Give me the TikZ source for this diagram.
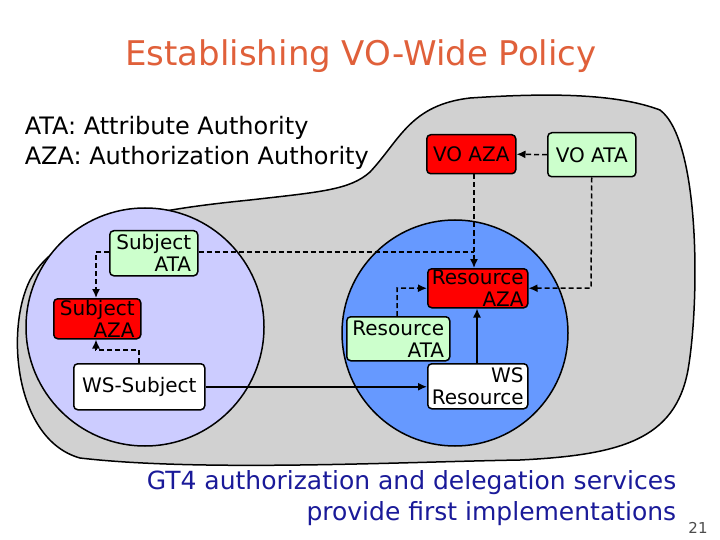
\documentclass[tikz,border=0pt]{standalone}
\usepackage{fontspec}
\setmainfont{DejaVu Sans}
\usetikzlibrary{arrows.meta}
\definecolor{ttl}{HTML}{E0603A}
\definecolor{btxt}{HTML}{1A1A99}
\definecolor{gr}{HTML}{CCFFCC}
\definecolor{rd}{HTML}{FF0000}
\definecolor{lav}{HTML}{CCCCFF}
\definecolor{blu}{HTML}{6699FF}
\begin{document}
\begin{tikzpicture}[x=1pt,y=-1pt,line width=1.5pt,
  box/.style={draw,rounded corners=4pt,inner sep=0pt,font=\fontsize{20}{22}\selectfont,align=right,anchor=north west},
  darr/.style={dash pattern=on 5pt off 3pt,-{Latex[length=9pt,width=8pt]}},
  sarr/.style={-{Latex[length=9pt,width=8pt]}}]
\useasboundingbox (0,0) rectangle (720,540);
\fill[white] (0,0) rectangle (720,540);
% blob
\draw[fill=black!18] (370,172) .. controls (400,140) and (410,105) .. (470,98)
  .. controls (560,92) and (620,95) .. (660,110)
  .. controls (700,140) and (700,300) .. (688,370)
  .. controls (675,440) and (620,455) .. (520,460)
  .. controls (400,462) and (200,472) .. (80,458)
  .. controls (15,440) and (5,330) .. (30,280)
  .. controls (60,225) and (150,210) .. (250,200)
  .. controls (320,192) and (350,190) .. (370,172) -- cycle;
\draw[fill=lav] (145,327) circle (119);
\draw[fill=blu] (455,333) circle (113);
% texts
\node[text=ttl,font=\fontsize{34}{36}\selectfont] (title) at (361,56) {Establishing VO-Wide Policy};
\node[anchor=north west,align=left,inner sep=0,font=\fontsize{24}{30}\selectfont] (leg) at (24,116) {ATA: Attribute Authority\\AZA: Authorization Authority};
% boxes
\node[box,fill=rd,minimum width=89,minimum height=39] (voaza) at (426,134) {VO AZA};
\node[box,fill=gr,minimum width=88,minimum height=44] (voata) at (547,132) {VO ATA};
\node[box,fill=rd,minimum width=100,minimum height=39] (raza) at (427,268) {Resource\\AZA};
\node[box,fill=gr,minimum width=103,minimum height=44] (rata) at (346,316) {Resource\\ATA};
\node[box,fill=white,minimum width=100,minimum height=45] (wsr) at (427,363) {WS\\Resource};
\node[box,fill=gr,minimum width=88,minimum height=45] (sata) at (109,230) {Subject\\ATA};
\node[box,fill=rd,minimum width=87,minimum height=40] (saza) at (53,298) {Subject\\AZA};
\node[box,fill=white,minimum width=131,minimum height=46,align=center] (wss) at (73,363) {WS-Subject};
% connectors
\draw[darr] (voata.west) -- (voaza.east);
\draw[darr] (voaza.south -| 474,0) -- (raza.north -| 474,0);
\draw[darr] (voata.south) -- (591,288) -- (raza.east);
\draw[darr] (rata.north -| 397,0) -- (397,288) -- (raza.west);
\draw[sarr] (wsr.north -| 477,0) -- (raza.south -| 477,0);
\draw[sarr] (wss.east) -- (wss.east -| wsr.west);
\coordinate (j) at (474,252);
\draw[dash pattern=on 5pt off 3pt] (sata.east |- j) -- (j);
\draw[darr] (sata.west |- 0,252) -- (96,252) -- (saza.north -| 96,0);
\draw[darr] (wss.north -| 139,0) -- (139,350) -- (96,350) -- (saza.south -| 96,0);
% bottom
\node[anchor=north east,align=right,inner sep=0,text=btxt,font=\fontsize{25}{31}\selectfont] (bt) at (677,470) {GT4 authorization and delegation services\\provide first implementations};
\node[font=\fontsize{15}{16}\selectfont,text=black!70] (pg) at (698,528) {21};
\end{tikzpicture}
\end{document}
